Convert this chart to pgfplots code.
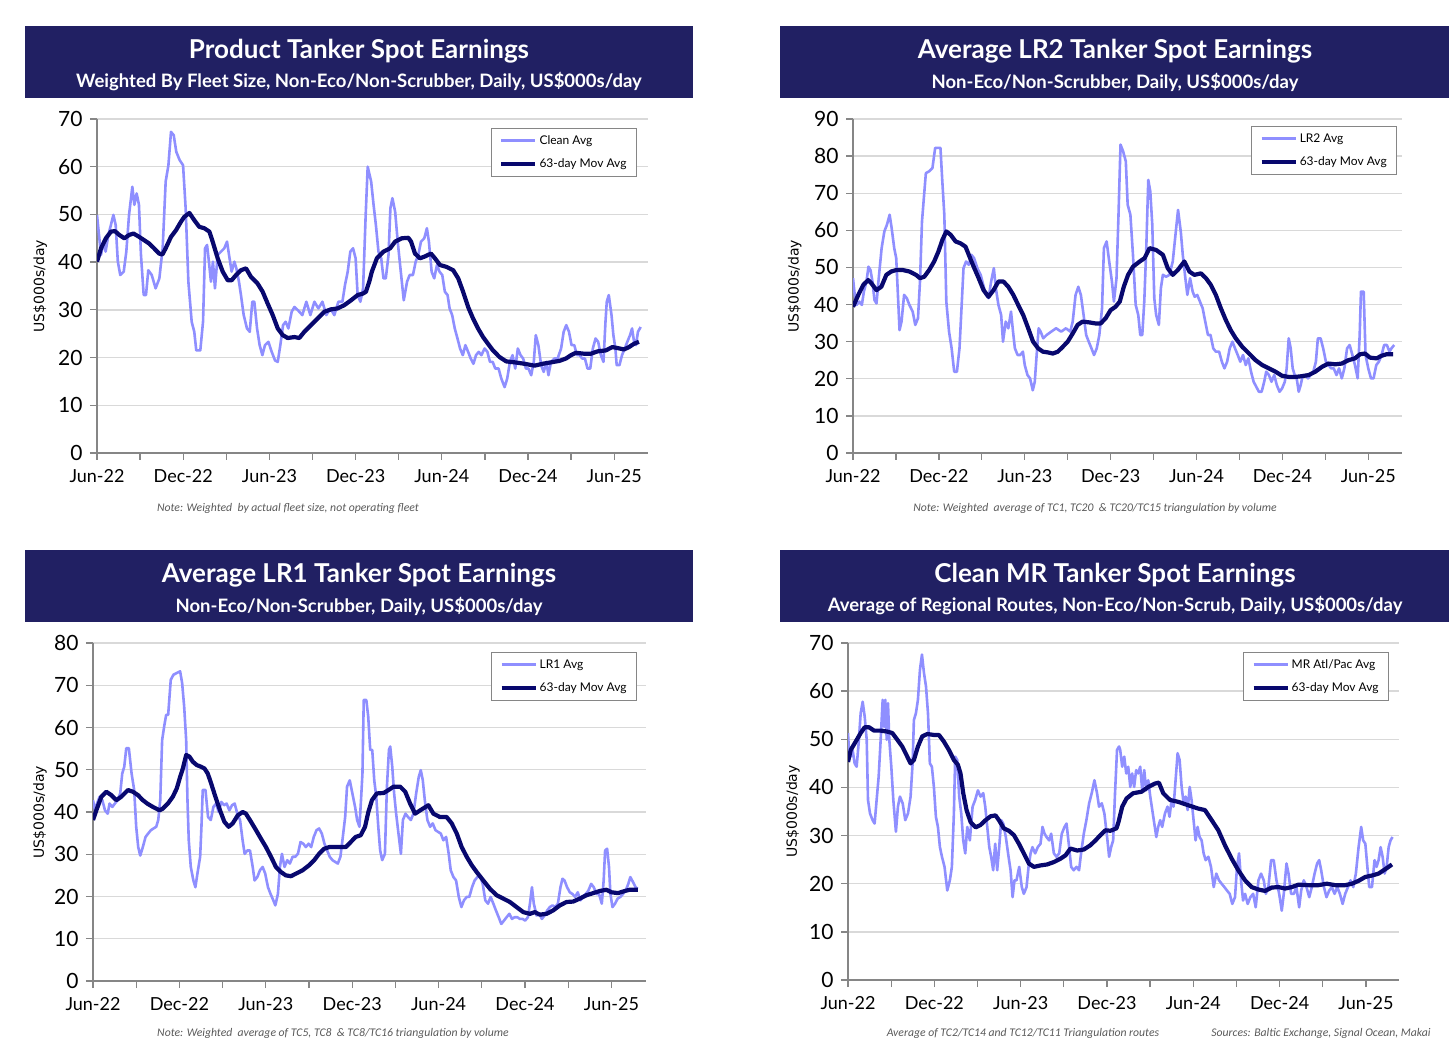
\documentclass[border=0pt]{standalone}
\usepackage{fontspec}
\usepackage{pgfplots}
\pgfplotsset{compat=1.18}
\setmainfont{Lato}
\newfontfamily\notefont{Carlito}
\newfontfamily\ylabfont{DejaVu Sans}

\definecolor{banner}{RGB}{33,32,99}
\definecolor{lightln}{RGB}{143,143,255}
\definecolor{navy}{RGB}{8,8,110}
\definecolor{gridc}{RGB}{217,217,217}
\definecolor{axc}{RGB}{134,134,134}
\definecolor{notec}{RGB}{89,89,89}

\pgfplotsset{
  panel/.style={
    scale only axis, anchor=south west,
    xmin=0, ymin=0,
    axis x line*=bottom, axis y line*=left,
    axis line style={draw=axc, line width=1.3pt},
    tick style={draw=axc, line width=1.3pt},
    major tick length=7pt, tick align=outside,
    ymajorgrids, grid style={draw=gridc, line width=1.4pt},
    xtick={0,3,...,36},
    xticklabels={Jun-22,,Dec-22,,Jun-23,,Dec-23,,Jun-24,,Dec-24,,Jun-25},
    ytick distance=10,
    xticklabel style={font=\fontsize{18}{20}\selectfont, text=black, yshift=-6pt},
    yticklabel style={font=\fontsize{21}{23}\selectfont, text=black, xshift=-4pt},
    /pgf/number format/assume math mode=true,
    ylabel={US\$000s/day},
    legend cell align=left,
    legend image code/.code={\draw[##1] (12pt,0pt) -- (46pt,0pt);},
    legend style={anchor=north east, draw=axc, line width=1pt,
      font=\fontsize{12}{14}\selectfont, inner xsep=8pt, inner ysep=5pt,
      row sep=9pt},
  },
  ylab/.style={ylabel style={font=\ylabfont\fontsize{14}{16}\selectfont,
      at={(axis description cs:#1,0.5)}, anchor=center}},
  light/.style={draw=lightln, line width=2.6pt, line join=round},
  dark/.style={draw=navy, line width=4.2pt, line join=round},
}

\begin{document}
\begin{tikzpicture}[x=1pt,y=1pt]
\useasboundingbox (0,0) rectangle (1456,1055);

% banners
\fill[banner] (25,957) rectangle (693,1029);
\fill[banner] (780,957) rectangle (1449,1029);
\fill[banner] (25,433) rectangle (693,505);
\fill[banner] (780,433) rectangle (1449,505);
\begin{scope}[every node/.style={text=white, inner sep=0pt}]
\node at (359,1004) {\bfseries\fontsize{26}{29}\selectfont Product Tanker Spot Earnings};
\node at (359,973) {\bfseries\fontsize{18.5}{20}\selectfont Weighted By Fleet Size, Non-Eco/Non-Scrubber, Daily, US\$000s/day};
\node at (1115,1004) {\bfseries\fontsize{26}{29}\selectfont Average LR2 Tanker Spot Earnings};
\node at (1115,973) {\bfseries\fontsize{18.5}{20}\selectfont Non-Eco/Non-Scrubber, Daily, US\$000s/day};
\node at (359,480) {\bfseries\fontsize{26}{29}\selectfont Average LR1 Tanker Spot Earnings};
\node at (359,449) {\bfseries\fontsize{18.5}{20}\selectfont Non-Eco/Non-Scrubber, Daily, US\$000s/day};
\node at (1115,480) {\bfseries\fontsize{26}{29}\selectfont Clean MR Tanker Spot Earnings};
\node at (1115,449) {\bfseries\fontsize{18.5}{20}\selectfont Average of Regional Routes, Non-Eco/Non-Scrub, Daily, US\$000s/day};
\end{scope}

% notes
\begin{scope}[every node/.style={text=notec, inner sep=0pt, font=\notefont\itshape\fontsize{11.7}{13}\selectfont}]
\node at (288,547) {Note: Weighted\ \ by actual fleet size, not operating fleet};
\node at (1095,547) {Note: Weighted\ \ average of TC1, TC20\ \ \& TC20/TC15 triangulation by volume};
\node at (333,22) {Note: Weighted\ \ average of TC5, TC8\ \ \& TC8/TC16 triangulation by volume};
\node at (1023,22) {Average of TC2/TC14 and TC12/TC11 Triangulation routes};
\node at (1321,22) {Sources: Baltic Exchange, Signal Ocean, Makai};
\end{scope}

% ---------------- Product tanker
\begin{axis}[panel, at={(97pt,602pt)}, width=551pt, height=334pt,
  xmax=38.35, ymax=70, ylab=-0.103,
  legend style={at={(0.98,0.973)}}]
\addplot[light] coordinates {(0,49.9)(0.14,45.7)(0.28,41.5)(0.44,44.3)(0.6,42.2)(0.79,45.7)(0.97,47.8)(1.14,49.9)(1.3,47.8)(1.45,40.1)(1.62,37.3)(1.86,38.0)(2.04,42.2)(2.23,49.9)(2.46,55.8)(2.6,52.0)(2.76,54.4)(2.92,52.0)(3.06,41.5)(3.25,33.1)(3.41,33.1)(3.57,38.3)(3.81,37.3)(4.08,34.5)(4.34,36.6)(4.57,42.9)(4.78,56.9)(4.97,60.3)(5.15,67.3)(5.34,66.6)(5.52,63.1)(5.75,61.4)(5.99,60.3)(6.17,51.3)(6.36,35.9)(6.59,27.5)(6.77,25.4)(6.91,21.5)(7.19,21.5)(7.38,27.5)(7.52,42.9)(7.66,43.6)(7.79,40.1)(7.93,35.9)(8.07,40.1)(8.21,34.5)(8.4,41.5)(8.63,42.2)(8.86,42.9)(9.05,44.3)(9.19,41.5)(9.37,38.0)(9.56,40.1)(9.7,38.7)(9.88,35.9)(10.02,33.1)(10.21,28.9)(10.44,26.1)(10.63,25.4)(10.81,31.7)(10.95,31.7)(11.14,26.1)(11.32,22.6)(11.51,20.5)(11.69,22.6)(11.93,23.3)(12.16,21.2)(12.39,19.4)(12.58,19.1)(12.76,22.6)(12.95,26.8)(13.13,27.5)(13.32,26.1)(13.55,29.6)(13.74,30.6)(13.99,29.9)(14.29,28.9)(14.57,31.7)(14.85,28.9)(15.13,31.7)(15.41,30.3)(15.69,31.7)(15.96,28.9)(16.24,30.3)(16.52,28.9)(16.8,31.7)(17.08,31.7)(17.26,35.2)(17.45,38.0)(17.63,42.2)(17.82,42.9)(18.0,40.8)(18.14,33.1)(18.33,31.7)(18.52,34.5)(18.7,49.9)(18.84,60.0)(19.08,56.9)(19.25,52.0)(19.41,47.8)(19.59,42.2)(19.78,40.8)(19.94,36.6)(20.1,36.6)(20.29,41.5)(20.42,51.3)(20.56,53.4)(20.75,50.6)(20.93,44.3)(21.12,38.7)(21.35,32.0)(21.58,35.9)(21.76,37.3)(21.99,37.3)(22.18,40.1)(22.36,41.5)(22.55,44.3)(22.78,45.0)(22.96,47.1)(23.1,44.3)(23.29,38.0)(23.47,36.6)(23.66,39.4)(23.84,38.0)(24.03,37.3)(24.21,33.8)(24.4,33.1)(24.54,30.3)(24.72,28.9)(24.9,26.1)(25.09,24.0)(25.27,21.9)(25.46,20.5)(25.64,22.6)(25.83,21.2)(26.01,19.8)(26.2,18.7)(26.38,20.5)(26.57,21.2)(26.75,20.5)(26.98,21.9)(27.17,21.2)(27.35,19.1)(27.54,19.1)(27.72,17.7)(27.95,17.7)(28.14,15.6)(28.37,13.8)(28.55,15.6)(28.74,19.1)(28.92,20.5)(29.11,17.7)(29.29,21.9)(29.48,20.5)(29.66,19.8)(29.85,17.7)(30.03,17.7)(30.22,16.3)(30.4,19.1)(30.54,24.7)(30.72,22.6)(30.91,18.4)(31.09,17.0)(31.28,19.1)(31.42,16.3)(31.6,19.1)(31.83,19.8)(32.06,19.8)(32.3,21.9)(32.48,25.4)(32.66,26.8)(32.85,25.4)(33.03,22.6)(33.22,22.6)(33.4,20.5)(33.59,20.5)(33.77,19.8)(33.96,19.8)(34.14,17.7)(34.33,17.7)(34.51,21.9)(34.7,24.0)(34.88,23.3)(35.07,20.5)(35.25,19.1)(35.39,27.5)(35.48,31.7)(35.62,33.1)(35.81,28.9)(35.94,24.7)(36.08,21.9)(36.17,18.4)(36.36,18.4)(36.54,20.5)(36.73,21.9)(36.91,23.3)(37.1,24.7)(37.24,26.1)(37.38,23.3)(37.51,22.6)(37.65,25.4)(37.84,26.4)};
\addlegendentry{Clean Avg}
\addplot[dark] coordinates {(0,40.1)(0.28,42.9)(0.62,45.0)(0.97,46.4)(1.25,46.5)(1.55,45.7)(1.9,45.0)(2.24,45.7)(2.54,46.0)(2.93,45.3)(3.28,44.6)(3.63,43.9)(3.97,42.9)(4.32,41.8)(4.55,41.6)(4.78,42.9)(5.15,45.3)(5.5,46.7)(5.85,48.5)(6.08,49.5)(6.43,50.3)(6.77,48.8)(7.12,47.4)(7.47,47.1)(7.82,46.4)(8.05,44.3)(8.4,40.8)(8.75,38.0)(9.1,36.2)(9.37,36.2)(9.68,37.3)(10.02,38.3)(10.37,38.7)(10.72,36.9)(11.18,35.5)(11.53,33.8)(11.88,31.3)(12.23,28.9)(12.58,26.1)(12.93,24.7)(13.27,24.1)(13.74,24.3)(14.08,24.1)(14.43,25.4)(14.9,26.8)(15.36,28.2)(15.82,29.6)(16.29,30.1)(16.75,30.3)(17.22,31.0)(17.68,32.0)(18.14,33.1)(18.5,33.4)(18.72,33.8)(18.95,35.9)(19.13,38.0)(19.48,40.8)(19.94,42.2)(20.4,42.9)(20.75,44.3)(21.21,45.0)(21.67,45.1)(21.86,44.3)(22.13,41.8)(22.48,40.8)(22.83,41.2)(23.24,41.8)(23.52,40.8)(23.87,39.4)(24.33,39.0)(24.79,38.3)(25.14,36.6)(25.48,33.8)(25.83,30.6)(26.17,28.2)(26.52,26.1)(26.87,24.3)(27.21,22.9)(27.56,21.5)(28.02,20.1)(28.48,19.2)(29.06,19.0)(29.75,18.7)(30.45,18.3)(31.02,18.7)(31.6,19.0)(32.18,19.3)(32.64,19.8)(32.99,20.5)(33.33,21.0)(33.91,20.8)(34.37,20.8)(34.84,21.3)(35.41,21.5)(35.87,22.2)(36.22,22.0)(36.68,21.7)(37.03,22.2)(37.38,22.9)(37.72,23.3)};
\addlegendentry{63-day Mov Avg}
\end{axis}

% ---------------- LR2
\begin{axis}[panel, at={(853pt,602pt)}, width=548.6pt, height=334pt,
  xmax=38.33, ymax=90, ylab=-0.106,
  legend style={at={(0.992,0.979)}}]
\addplot[light] coordinates {(0,47.1)(0.12,42.6)(0.25,39.9)(0.44,40.8)(0.62,39.9)(0.76,43.5)(0.94,46.2)(1.08,50.2)(1.22,49.3)(1.36,46.2)(1.5,41.2)(1.64,40.3)(1.82,48.0)(2.0,55.2)(2.19,59.7)(2.37,61.5)(2.56,64.2)(2.7,60.6)(2.88,55.2)(3.02,52.5)(3.16,40.8)(3.25,33.1)(3.39,35.4)(3.57,42.6)(3.76,41.7)(3.94,39.9)(4.17,38.1)(4.35,34.5)(4.54,36.3)(4.68,46.2)(4.82,62.4)(4.95,68.7)(5.09,75.4)(5.32,75.9)(5.55,76.8)(5.74,82.2)(5.92,82.2)(6.11,82.2)(6.24,73.2)(6.38,64.2)(6.52,40.8)(6.71,32.7)(6.89,28.2)(7.07,21.9)(7.26,21.9)(7.44,28.2)(7.58,39.0)(7.72,49.8)(7.9,51.6)(8.09,50.7)(8.27,53.4)(8.46,52.5)(8.69,49.8)(8.92,48.0)(9.1,45.3)(9.29,42.6)(9.47,41.7)(9.65,46.2)(9.84,49.8)(9.98,44.4)(10.16,39.9)(10.35,37.2)(10.48,30.0)(10.67,35.4)(10.85,33.6)(11.04,38.1)(11.18,32.7)(11.31,28.2)(11.5,26.4)(11.68,26.4)(11.87,27.3)(12.0,23.7)(12.19,21.0)(12.37,20.1)(12.56,16.9)(12.7,19.2)(12.83,26.4)(12.97,33.6)(13.11,32.7)(13.29,30.9)(13.53,31.8)(13.85,32.7)(14.19,33.6)(14.54,32.7)(14.88,33.6)(15.18,32.7)(15.35,35.4)(15.55,42.6)(15.74,44.8)(15.92,42.6)(16.11,37.2)(16.29,31.8)(16.47,30.0)(16.66,28.2)(16.84,26.4)(17.03,28.2)(17.21,31.8)(17.4,39.0)(17.53,55.2)(17.72,57.0)(17.9,51.6)(18.09,46.2)(18.23,40.8)(18.41,47.1)(18.55,64.2)(18.69,83.1)(18.87,81.3)(19.06,78.6)(19.19,66.9)(19.38,64.2)(19.56,53.4)(19.75,39.9)(19.93,37.2)(20.07,31.8)(20.21,31.8)(20.35,40.8)(20.49,55.2)(20.63,73.6)(20.77,70.5)(20.91,61.5)(21.05,41.7)(21.18,37.2)(21.37,34.5)(21.51,44.4)(21.65,48.0)(21.88,47.5)(22.11,48.0)(22.34,51.6)(22.53,58.8)(22.71,65.5)(22.9,59.7)(23.04,53.4)(23.22,47.1)(23.36,42.6)(23.55,47.1)(23.73,43.5)(23.87,42.1)(24.05,42.6)(24.24,40.8)(24.43,39.0)(24.61,35.4)(24.8,31.8)(24.98,31.8)(25.17,28.2)(25.35,27.3)(25.58,27.3)(25.77,24.6)(25.95,22.8)(26.14,24.6)(26.32,28.2)(26.51,30.0)(26.69,28.2)(26.88,26.4)(27.06,24.6)(27.25,26.4)(27.44,23.7)(27.62,25.5)(27.81,21.9)(27.99,19.2)(28.18,17.8)(28.36,16.5)(28.55,16.5)(28.73,19.2)(28.87,21.9)(29.06,21.0)(29.24,19.2)(29.43,21.0)(29.61,18.3)(29.8,16.5)(29.98,17.4)(30.17,19.2)(30.3,22.8)(30.44,30.9)(30.58,28.2)(30.72,22.8)(30.86,21.0)(31.0,20.1)(31.14,16.5)(31.28,18.3)(31.42,21.0)(31.6,21.0)(31.79,20.1)(31.97,21.0)(32.16,21.9)(32.34,24.6)(32.48,30.9)(32.67,30.9)(32.85,28.2)(33.04,24.6)(33.22,23.7)(33.41,22.8)(33.59,22.8)(33.78,21.0)(33.96,22.8)(34.15,20.1)(34.33,22.8)(34.52,28.2)(34.7,29.1)(34.89,26.4)(35.07,23.7)(35.26,20.1)(35.4,31.8)(35.49,43.5)(35.68,43.5)(35.81,26.4)(36.0,22.8)(36.19,20.1)(36.37,20.1)(36.56,23.7)(36.74,24.6)(36.93,26.4)(37.11,29.1)(37.3,29.1)(37.48,27.3)(37.62,28.2)(37.81,29.1)};
\addlegendentry{LR2 Avg}
\addplot[dark] coordinates {(0,39.4)(0.37,42.6)(0.72,45.3)(1.06,46.6)(1.29,45.7)(1.64,43.9)(1.98,44.8)(2.33,48.0)(2.67,48.9)(3.02,49.3)(3.48,49.3)(3.94,48.9)(4.4,48.0)(4.68,47.1)(4.98,47.5)(5.32,49.3)(5.67,51.6)(5.97,54.3)(6.24,57.4)(6.52,59.7)(6.82,58.8)(7.17,57.0)(7.51,56.5)(7.86,55.6)(8.09,53.4)(8.43,50.2)(8.78,47.1)(9.12,43.9)(9.47,42.1)(9.82,43.9)(10.16,46.2)(10.51,46.2)(10.85,44.8)(11.2,42.6)(11.54,39.9)(11.89,37.2)(12.24,33.6)(12.58,30.0)(12.93,28.2)(13.27,27.3)(13.62,27.1)(13.96,26.8)(14.31,27.3)(14.65,28.6)(15.0,30.0)(15.35,32.2)(15.69,34.5)(16.04,35.4)(16.5,35.2)(16.96,34.9)(17.3,34.9)(17.65,36.3)(18.0,38.5)(18.34,39.4)(18.64,40.8)(18.92,44.8)(19.22,48.0)(19.56,50.2)(20.03,51.6)(20.37,52.5)(20.72,55.2)(21.18,54.7)(21.65,53.4)(21.99,49.8)(22.34,48.0)(22.69,49.3)(23.15,51.6)(23.5,48.9)(23.85,48.0)(24.31,48.4)(24.66,47.1)(25.0,45.3)(25.35,42.6)(25.7,39.0)(26.05,35.8)(26.39,33.1)(26.74,30.9)(27.2,28.6)(27.67,26.8)(28.13,25.0)(28.59,23.7)(29.06,22.8)(29.52,21.9)(29.98,20.8)(30.44,20.5)(30.91,20.5)(31.37,20.7)(31.83,21.0)(32.3,21.9)(32.76,23.2)(33.22,24.1)(33.69,23.9)(34.15,24.1)(34.61,25.0)(35.07,25.5)(35.42,26.6)(35.77,26.8)(36.12,25.7)(36.58,25.5)(36.93,26.2)(37.27,26.6)(37.74,26.6)};
\addlegendentry{63-day Mov Avg}
\end{axis}

% ---------------- LR1
\begin{axis}[panel, at={(93pt,74pt)}, width=553pt, height=338pt,
  xmax=38.4, ymax=80, ylab=-0.096,
  legend style={at={(0.984,0.973)}}]
\addplot[light] coordinates {(0,42.8)(0.14,40.4)(0.28,42.0)(0.46,43.6)(0.65,42.8)(0.83,40.4)(1.02,39.6)(1.15,42.0)(1.34,41.2)(1.52,42.0)(1.71,42.8)(1.89,44.4)(2.03,49.1)(2.17,50.7)(2.31,55.1)(2.49,55.1)(2.68,49.1)(2.86,45.2)(3.0,36.5)(3.14,31.7)(3.28,29.7)(3.46,31.7)(3.65,34.1)(3.83,34.9)(4.02,35.7)(4.2,36.1)(4.39,36.5)(4.53,38.1)(4.67,42.8)(4.8,57.0)(4.94,60.2)(5.08,63.0)(5.22,63.0)(5.4,71.3)(5.59,72.5)(5.82,72.9)(6.05,73.3)(6.19,70.5)(6.33,65.0)(6.47,57.0)(6.56,42.8)(6.65,33.3)(6.79,27.0)(6.97,23.8)(7.11,22.2)(7.25,25.4)(7.44,29.4)(7.53,36.5)(7.62,45.2)(7.81,45.2)(7.99,38.8)(8.18,38.1)(8.36,41.2)(8.55,42.0)(8.73,40.0)(8.91,42.4)(9.1,41.6)(9.28,42.0)(9.47,40.4)(9.65,41.6)(9.84,42.0)(10.02,39.6)(10.21,38.1)(10.39,33.3)(10.53,30.1)(10.72,30.9)(10.9,30.9)(11.09,27.0)(11.22,23.8)(11.41,24.6)(11.59,26.2)(11.78,27.0)(11.96,25.4)(12.15,22.2)(12.33,20.6)(12.52,19.1)(12.66,17.9)(12.84,20.6)(12.98,27.0)(13.12,30.1)(13.3,27.0)(13.49,28.6)(13.67,27.8)(13.86,29.4)(14.04,29.4)(14.23,30.1)(14.41,32.9)(14.6,32.5)(14.78,31.7)(14.97,32.5)(15.15,31.7)(15.33,34.1)(15.52,35.7)(15.7,36.1)(15.89,34.9)(16.07,32.5)(16.26,30.9)(16.44,29.4)(16.63,28.6)(16.81,28.2)(17.0,27.8)(17.18,29.4)(17.32,33.3)(17.51,38.8)(17.64,46.0)(17.83,47.5)(18.01,44.4)(18.2,41.2)(18.34,38.1)(18.5,36.5)(18.61,42.8)(18.71,49.1)(18.8,66.5)(18.98,66.5)(19.11,62.6)(19.25,54.7)(19.39,54.7)(19.53,47.5)(19.67,43.6)(19.81,36.5)(19.94,30.9)(20.08,28.6)(20.27,30.1)(20.41,46.0)(20.55,54.7)(20.64,55.5)(20.78,50.7)(20.91,44.4)(21.05,39.6)(21.24,34.1)(21.38,30.1)(21.52,38.1)(21.7,39.6)(21.88,38.8)(22.07,38.1)(22.25,39.6)(22.44,44.4)(22.62,48.3)(22.76,49.9)(22.9,47.5)(23.04,42.8)(23.22,38.1)(23.41,36.5)(23.59,37.3)(23.78,35.7)(23.96,35.3)(24.15,34.9)(24.33,33.3)(24.52,34.1)(24.7,30.1)(24.84,26.2)(25.03,24.6)(25.21,23.8)(25.4,19.9)(25.58,17.5)(25.76,19.1)(25.95,19.9)(26.13,19.9)(26.32,22.2)(26.5,23.8)(26.69,24.6)(26.87,25.0)(27.06,23.0)(27.24,19.1)(27.43,18.3)(27.61,19.9)(27.8,18.3)(27.98,16.7)(28.17,15.1)(28.35,13.5)(28.54,14.3)(28.72,15.1)(28.91,15.9)(29.09,14.7)(29.28,15.1)(29.46,15.1)(29.64,14.7)(29.83,14.7)(30.01,14.3)(30.2,15.1)(30.34,18.3)(30.48,22.2)(30.61,18.3)(30.8,15.5)(30.98,15.9)(31.17,14.7)(31.35,15.5)(31.54,16.7)(31.72,17.5)(31.91,17.9)(32.09,17.5)(32.28,18.3)(32.46,22.2)(32.6,24.2)(32.74,23.8)(32.92,22.2)(33.11,21.0)(33.29,20.6)(33.48,19.9)(33.66,21.0)(33.85,19.1)(34.03,19.9)(34.22,20.6)(34.4,21.4)(34.59,23.0)(34.77,22.2)(34.96,20.6)(35.14,20.6)(35.33,18.3)(35.46,23.8)(35.56,30.9)(35.7,31.3)(35.83,27.0)(35.93,20.6)(36.07,17.5)(36.25,18.3)(36.43,19.5)(36.62,19.9)(36.8,20.6)(36.99,21.4)(37.17,23.0)(37.31,24.6)(37.5,23.4)(37.68,22.2)(37.82,21.8)};
\addlegendentry{LR1 Avg}
\addplot[dark] coordinates {(0,38.1)(0.23,40.4)(0.58,43.6)(0.92,44.8)(1.27,44.0)(1.62,42.8)(1.96,43.6)(2.43,45.2)(2.77,44.8)(3.12,44.0)(3.46,42.8)(3.81,41.9)(4.16,41.2)(4.62,40.4)(4.85,40.8)(5.2,42.0)(5.54,43.6)(5.82,45.6)(6.05,48.3)(6.24,50.3)(6.47,53.5)(6.7,53.1)(6.93,51.9)(7.21,51.1)(7.51,50.7)(7.74,50.3)(7.97,49.1)(8.2,46.8)(8.5,43.6)(8.82,40.4)(9.12,37.7)(9.42,36.5)(9.7,37.3)(10.05,39.2)(10.39,40.0)(10.62,39.6)(10.97,37.7)(11.32,35.7)(11.66,33.7)(12.01,31.7)(12.36,29.4)(12.7,27.0)(13.05,25.8)(13.39,25.0)(13.74,24.8)(14.09,25.4)(14.55,26.2)(15.01,27.4)(15.36,28.6)(15.7,30.1)(16.05,31.3)(16.4,31.7)(16.86,31.7)(17.55,31.7)(17.9,32.9)(18.24,34.1)(18.59,34.5)(18.89,36.5)(19.12,40.0)(19.37,42.8)(19.71,44.4)(20.18,44.5)(20.52,45.2)(20.87,46.0)(21.33,46.0)(21.68,44.8)(22.02,42.0)(22.37,39.6)(22.72,40.4)(23.29,41.6)(23.64,39.6)(24.1,38.8)(24.56,38.8)(24.91,37.3)(25.26,34.9)(25.6,31.7)(25.95,29.4)(26.3,27.4)(26.64,25.8)(27.1,23.8)(27.57,21.8)(28.03,20.3)(28.49,19.5)(28.95,18.7)(29.41,17.5)(29.88,16.3)(30.34,15.9)(30.68,16.3)(31.03,15.7)(31.49,15.9)(31.95,16.7)(32.42,17.9)(32.88,18.7)(33.34,18.8)(33.8,19.5)(34.26,20.3)(34.73,20.8)(35.19,21.3)(35.65,21.6)(36.0,21.0)(36.46,20.8)(36.92,21.3)(37.27,21.6)(37.84,21.6)};
\addlegendentry{63-day Mov Avg}
\end{axis}

% ---------------- MR
\begin{axis}[panel, at={(848pt,75pt)}, width=551pt, height=337pt,
  xmax=38.3, ymax=70, ylab=-0.1,
  legend style={at={(0.982,0.973)}}]
\addplot[light] coordinates {(0,51.3)(0.05,48.5)(0.19,46.4)(0.32,47.8)(0.46,45.0)(0.6,44.3)(0.74,49.2)(0.88,55.4)(1.02,57.8)(1.16,54.7)(1.3,49.9)(1.39,37.4)(1.53,34.6)(1.71,33.2)(1.85,32.5)(1.99,37.4)(2.13,42.2)(2.27,49.9)(2.41,58.2)(2.5,52.6)(2.59,58.2)(2.69,49.9)(2.78,57.5)(2.87,49.9)(3.01,44.3)(3.15,37.4)(3.33,30.8)(3.47,36.0)(3.61,38.1)(3.8,36.7)(3.98,33.2)(4.17,34.6)(4.35,38.1)(4.49,45.0)(4.58,54.0)(4.72,55.4)(4.86,58.2)(5.0,64.4)(5.14,67.6)(5.28,63.8)(5.42,61.0)(5.56,55.4)(5.69,45.0)(5.83,44.3)(5.97,40.1)(6.11,33.9)(6.25,31.8)(6.39,27.6)(6.53,25.6)(6.71,23.5)(6.9,18.6)(7.08,20.7)(7.22,23.5)(7.36,34.6)(7.45,46.4)(7.59,45.7)(7.73,38.1)(7.87,34.6)(8.01,29.0)(8.15,26.3)(8.29,31.8)(8.47,29.0)(8.66,36.0)(8.84,37.4)(9.03,39.4)(9.21,38.1)(9.4,38.8)(9.54,36.0)(9.68,31.8)(9.82,27.6)(9.95,25.6)(10.09,22.8)(10.23,28.3)(10.37,22.8)(10.51,27.6)(10.65,33.2)(10.79,32.5)(10.97,29.7)(11.16,25.6)(11.3,22.8)(11.44,17.2)(11.57,20.7)(11.71,20.7)(11.9,23.5)(12.08,19.3)(12.22,17.9)(12.41,19.3)(12.55,23.5)(12.69,26.3)(12.82,27.6)(13.01,26.3)(13.19,27.6)(13.38,28.3)(13.52,31.8)(13.66,30.4)(13.8,29.7)(13.98,29.0)(14.12,30.4)(14.31,26.3)(14.49,25.6)(14.68,26.3)(14.86,30.4)(15.05,31.8)(15.19,32.5)(15.37,27.6)(15.51,23.5)(15.69,22.8)(15.88,23.5)(16.06,22.8)(16.2,26.3)(16.39,30.4)(16.57,33.2)(16.76,36.7)(16.94,38.8)(17.13,41.5)(17.31,38.8)(17.45,36.0)(17.64,36.7)(17.82,34.6)(18.01,29.7)(18.15,25.6)(18.29,27.6)(18.43,29.0)(18.56,38.8)(18.7,47.8)(18.84,48.5)(18.92,47.8)(19.06,44.3)(19.2,46.4)(19.34,42.9)(19.48,44.3)(19.62,40.1)(19.75,42.9)(19.89,40.1)(20.03,43.6)(20.17,42.9)(20.31,44.3)(20.45,39.4)(20.59,43.6)(20.73,39.4)(20.87,41.5)(21.01,38.1)(21.15,35.3)(21.29,32.5)(21.43,29.7)(21.56,31.8)(21.7,33.2)(21.84,31.8)(22.03,34.6)(22.21,36.0)(22.35,33.9)(22.49,37.4)(22.63,36.0)(22.77,41.5)(22.91,47.1)(23.05,45.7)(23.19,40.1)(23.33,36.7)(23.47,38.1)(23.61,35.3)(23.75,40.1)(23.88,37.4)(24.02,33.2)(24.16,29.0)(24.3,31.8)(24.44,29.7)(24.58,29.0)(24.72,26.3)(24.86,24.9)(25.05,25.6)(25.23,23.5)(25.42,19.3)(25.6,22.1)(25.79,20.7)(25.97,20.0)(26.16,19.3)(26.34,18.6)(26.53,17.9)(26.71,15.8)(26.9,17.2)(27.04,23.5)(27.18,26.3)(27.32,20.7)(27.46,16.5)(27.6,17.9)(27.78,15.8)(27.97,17.2)(28.16,17.9)(28.34,15.1)(28.53,20.7)(28.71,22.1)(28.9,20.7)(29.04,17.9)(29.22,19.3)(29.41,24.9)(29.59,24.9)(29.78,20.7)(29.97,17.9)(30.15,14.4)(30.29,17.9)(30.48,24.2)(30.62,22.1)(30.8,17.9)(30.99,17.9)(31.17,19.3)(31.36,15.1)(31.5,18.6)(31.68,20.7)(31.87,19.3)(32.06,17.2)(32.24,19.3)(32.43,22.1)(32.61,24.2)(32.75,24.9)(32.89,22.8)(33.08,19.3)(33.26,17.2)(33.45,18.6)(33.63,19.3)(33.82,17.9)(34.01,19.3)(34.19,17.9)(34.38,15.8)(34.56,17.9)(34.75,19.3)(34.93,20.7)(35.12,19.3)(35.3,22.1)(35.49,27.6)(35.67,31.8)(35.81,29.0)(35.96,28.3)(36.1,23.5)(36.23,19.3)(36.42,19.3)(36.6,24.9)(36.74,23.5)(36.88,24.9)(37.02,27.6)(37.16,25.6)(37.3,22.1)(37.44,23.5)(37.58,27.6)(37.71,29.0)(37.85,29.7)};
\addlegendentry{MR Atl/Pac Avg}
\addplot[dark] coordinates {(0,45.3)(0.19,47.8)(0.53,49.5)(0.88,51.3)(1.16,52.5)(1.46,52.5)(1.81,51.8)(2.27,51.8)(2.73,51.6)(3.08,51.3)(3.43,49.9)(3.77,48.5)(4.12,46.4)(4.35,45.0)(4.58,45.7)(4.86,48.5)(5.16,50.6)(5.51,51.1)(5.97,50.9)(6.32,50.9)(6.67,49.5)(7.01,47.8)(7.36,45.7)(7.64,44.7)(7.82,42.9)(8.01,38.8)(8.24,35.3)(8.52,32.8)(8.87,31.7)(9.21,32.2)(9.56,33.2)(9.91,34.0)(10.25,34.2)(10.49,33.2)(10.83,31.5)(11.18,31.0)(11.53,30.1)(11.88,28.3)(12.22,26.3)(12.57,24.2)(12.92,23.5)(13.38,23.8)(13.84,24.0)(14.31,24.5)(14.77,25.2)(15.12,25.9)(15.46,27.3)(15.93,26.9)(16.39,27.1)(16.85,28.0)(17.2,29.0)(17.55,30.1)(17.89,31.1)(18.24,31.0)(18.66,31.5)(18.8,32.8)(19.06,36.0)(19.36,37.7)(19.82,38.8)(20.4,39.1)(20.87,40.1)(21.33,40.8)(21.61,41.0)(21.91,38.8)(22.38,37.4)(22.96,37.0)(23.65,36.3)(24.35,35.6)(24.81,35.3)(25.28,33.2)(25.74,31.1)(26.2,28.0)(26.67,25.2)(27.13,22.8)(27.6,20.7)(28.06,19.3)(28.52,18.8)(28.99,18.5)(29.45,19.2)(29.92,19.3)(30.38,19.0)(30.85,19.3)(31.31,19.8)(32.01,19.7)(32.7,19.7)(33.28,20.0)(33.86,19.7)(34.56,19.7)(35.02,20.0)(35.49,20.6)(35.95,21.4)(36.42,21.7)(36.88,22.1)(37.23,22.8)(37.58,23.5)(37.81,24.0)};
\addlegendentry{63-day Mov Avg}
\end{axis}
\end{tikzpicture}
\end{document}
